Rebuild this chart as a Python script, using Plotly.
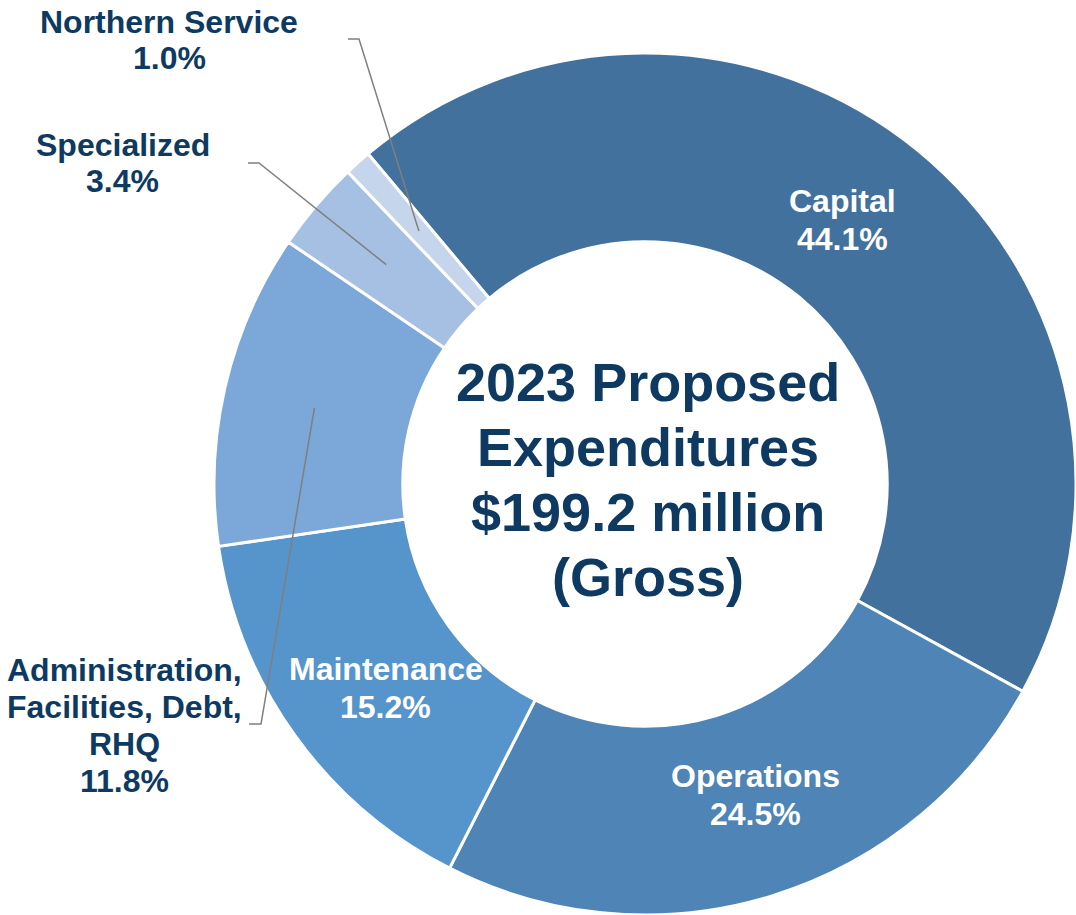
import math
import plotly.graph_objects as go

# Budget breakdown (share of gross expenditures, %)
categories = ["Capital", "Operations", "Maintenance",
              "Administration, Facilities, Debt, RHQ", "Specialized", "Northern Service"]
label_lines = [["Capital"], ["Operations"], ["Maintenance"],
               ["Administration,", "Facilities, Debt,", "RHQ"], ["Specialized"], ["Northern Service"]]
shares = [44.1, 24.5, 15.2, 11.8, 3.4, 1.0]
colors = ["#43719D", "#4E84B6", "#5694CC", "#7BA8D8", "#A5C0E3", "#C5D5EC"]
center_title = ["2023 Proposed", "Expenditures", "$199.2 million", "(Gross)"]

W, H = 1076, 915
CX, CY, R = 645, 484, 431          # donut centre / outer radius in pixels
HOLE = 0.562
ROTATION = -40                     # first slice starts 40 deg left of 12 o'clock
NAVY = "#0E3A62"
FONT = "Liberation Sans, Arial, sans-serif"


def px(x, y):
    """pixel position -> paper coordinates"""
    return x / W, 1 - y / H


fig = go.Figure(go.Pie(
    labels=categories,
    values=shares,
    sort=False,
    direction="clockwise",
    rotation=ROTATION,
    hole=HOLE,
    marker=dict(colors=colors, line=dict(color="white", width=3)),
    textinfo="none",
    hoverinfo="label+percent",
    showlegend=False,
    domain=dict(x=[max(0, (CX - R) / W), min(1, (CX + R) / W)],
                y=[max(0, 1 - (CY + R) / H), min(1, 1 - (CY - R) / H)]),
))

# mid-angle of every slice (degrees clockwise from 12 o'clock)
total = sum(shares)
mid_angles = []
start = ROTATION
for v in shares:
    span = 360 * v / total
    mid_angles.append(start + span / 2)
    start += span


def polar(angle_deg, r):
    a = math.radians(angle_deg)
    return CX + r * math.sin(a), CY - r * math.cos(a)


annotations = []
shapes = []


def text_block(lines, cx, cy, size, color, spacing):
    """stack of centred single-line annotations around (cx, cy) in pixels"""
    n = len(lines)
    for k, line in enumerate(lines):
        y = cy + (k - (n - 1) / 2) * spacing
        xp, yp = px(cx, y)
        annotations.append(dict(
            x=xp, y=yp, xref="paper", yref="paper", showarrow=False,
            text=line,
            font=dict(family=FONT, size=size, color=color, weight="bold"),
            xanchor="center", yanchor="middle", align="center",
        ))


# labels written inside the three large slices
for i in range(3):
    x, y = polar(mid_angles[i] - 2.5, 0.765 * R)
    text_block(label_lines[i] + [f"{shares[i]:.1f}%"], x, y, 32, "white", 38)

# outside labels with elbow leader lines: (label centre, elbow start x, elbow end x, elbow y)
outside = {
    3: ((124, 725), 249, 261, 724),
    4: ((123, 163), 248, 259, 163),
    5: ((169, 40), 348, 359, 39),
}
for i, ((lx, ly), ex0, ex1, ey) in outside.items():
    text_block(label_lines[i] + [f"{shares[i]:.1f}%"], lx, ly, 32, NAVY, 37)
    tx, ty = polar(mid_angles[i], 0.787 * R)
    p0, p1, p2 = px(ex0, ey), px(ex1, ey), px(tx, ty)
    shapes.append(dict(
        type="path", xref="paper", yref="paper",
        path=f"M {p0[0]} {p0[1]} L {p1[0]} {p1[1]} L {p2[0]} {p2[1]}",
        line=dict(color="#7F7F7F", width=1.5),
    ))

# title in the hole
text_block(center_title, CX + 3, CY - 5, 54, NAVY, 65)

fig.update_layout(
    width=W, height=H,
    margin=dict(l=0, r=0, t=0, b=0),
    paper_bgcolor="white",
    plot_bgcolor="white",
    annotations=annotations,
    shapes=shapes,
)

fig.write_html("out.html")
